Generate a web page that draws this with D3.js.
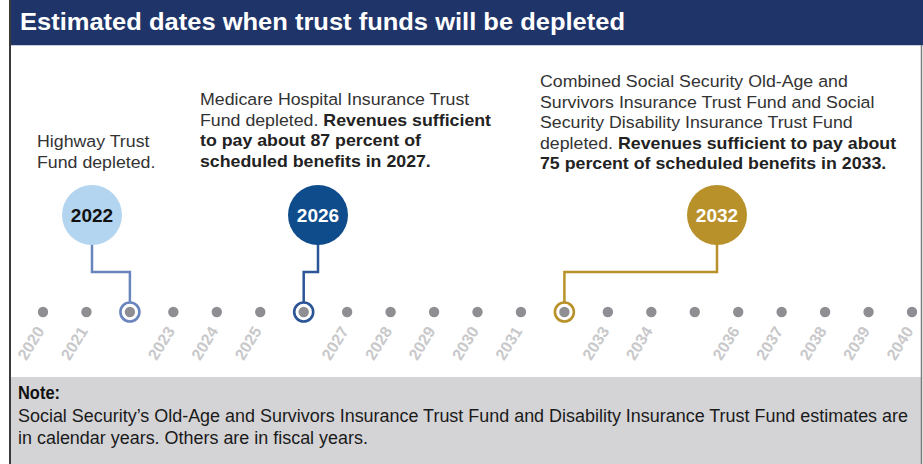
<!DOCTYPE html>
<html><head><meta charset="utf-8">
<script src="https://cdn.jsdelivr.net/npm/d3@7"></script>
<style>
html,body{margin:0;padding:0;background:#fff;}
svg{display:block;}
</style></head>
<body>
<script>
// ---- data ----
const years = [2020,2021,2022,2023,2024,2025,2026,2027,2028,2029,2030,2031,2032,2033,2034,2035,2036,2037,2038,2039,2040];
const tickLabels = ["2020","2021","","2023","2024","2025","","2027","2028","2029","2030","2031","","2033","2034","","2036","2037","2038","2039","2040"];
const eventYears = [2022, 2026, 2032];
const eventLabels = ["2022", "2026", "2032"];
const eventNotes = [
  [[["Highway Trust", false]], [["Fund depleted.", false]]],
  [[["Medicare Hospital Insurance Trust", false]],
   [["Fund depleted. ", false], ["Revenues sufficient", true]],
   [["to pay about 87 percent of", true]],
   [["scheduled benefits in 2027.", true]]],
  [[["Combined Social Security Old-Age and", false]],
   [["Survivors Insurance Trust Fund and Social", false]],
   [["Security Disability Insurance Trust Fund", false]],
   [["depleted. ", false], ["Revenues sufficient to pay about", true]],
   [["75 percent of scheduled benefits in 2033.", true]]]
];
const titleText = "Estimated dates when trust funds will be depleted";
const noteTitle = "Note:";
const noteLines = [
  "Social Security\u2019s Old-Age and Survivors Insurance Trust Fund and Disability Insurance Trust Fund estimates are",
  "in calendar years. Others are in fiscal years."
];

// ---- styles / layout ----
const W = 923, H = 464;
const bubbleFill = ["#b4d5ef", "#0e4c8b", "#b8912a"];
const bubbleText = ["#111", "#fff", "#fff"];
const lineColor = ["#6a85bd", "#2b5597", "#b8912a"];
const bubbleCx = [92, 318, 717];
const noteX = [37, 200, 540];
const noteY = [147, 105, 87];
const lineH = 20.6;
const narrow = "'Liberation Sans Narrow', 'Liberation Sans', Arial, sans-serif";

const svg = d3.select("body").append("svg").attr("width", W).attr("height", H)
  .style("font-family", "'Liberation Sans', Arial, sans-serif");

// title bar
svg.append("rect").attr("x", 10).attr("y", 0).attr("width", 913).attr("height", 45).attr("fill", "#1f3469");
svg.append("line").attr("x1", 10).attr("x2", 923).attr("y1", 45.5).attr("y2", 45.5).attr("stroke", "#c9cfdd").attr("stroke-width", 1);
svg.append("text").attr("x", 20).attr("y", 29.5)
  .attr("fill", "#fff").attr("font-size", 24.5).attr("font-weight", 700)
  .style("font-family", narrow)
  .attr("textLength", 605).attr("lengthAdjust", "spacingAndGlyphs")
  .text(titleText);

// note box
svg.append("rect").attr("x", 10).attr("y", 377).attr("width", 912).attr("height", 87).attr("fill", "#d4d4d6");
svg.append("text").attr("x", 18).attr("y", 399).attr("font-size", 17.5).attr("font-weight", 700).attr("fill", "#111")
  .style("font-family", narrow)
  .attr("textLength", 42).attr("lengthAdjust", "spacingAndGlyphs")
  .text(noteTitle);
const noteG = svg.append("g");
const noteTexts = noteLines.map((t, i) => noteG.append("text")
  .attr("x", 18).attr("y", 422 + i * 22.3).attr("font-size", 17.5).attr("fill", "#1a1a1a")
  .style("font-family", narrow).text(t));
const squeeze = 890 / noteTexts[0].node().getComputedTextLength();
noteTexts.forEach(t => {
  t.attr("textLength", t.node().getComputedTextLength() * squeeze).attr("lengthAdjust", "spacingAndGlyphs");
});

// borders
svg.append("line").attr("x1", 10).attr("x2", 10).attr("y1", 0).attr("y2", H).attr("stroke", "#3a3a3a").attr("stroke-width", 2);
svg.append("line").attr("x1", 921.5).attr("x2", 921.5).attr("y1", 45).attr("y2", H).attr("stroke", "#7a7a7a").attr("stroke-width", 1.5);

// scale
const x = d3.scalePoint().domain(years).range([43, 912]);
const axisY = 312;

// connectors
const elbowY = 272;
eventYears.forEach((yr, i) => {
  const bx = bubbleCx[i], tx = x(yr);
  const p = d3.path();
  p.moveTo(bx, 230);
  p.lineTo(bx, elbowY);
  p.lineTo(tx, elbowY);
  p.lineTo(tx, axisY - 10);
  svg.append("path").attr("d", p.toString()).attr("fill", "none")
    .attr("stroke", lineColor[i]).attr("stroke-width", 2.5);
});

// dots
svg.append("g").selectAll("circle").data(years).join("circle")
  .attr("cx", d => x(d)).attr("cy", axisY).attr("r", 5.2).attr("fill", "#8e8e93");

// rings
svg.append("g").selectAll("circle").data(eventYears).join("circle")
  .attr("cx", d => x(d)).attr("cy", axisY).attr("r", 9.5)
  .attr("fill", "none").attr("stroke", (d, i) => lineColor[i]).attr("stroke-width", 2.6);

// tick labels
svg.append("g").selectAll("text").data(years).join("text")
  .attr("transform", d => `translate(${x(d) + 2},${axisY + 19}) rotate(-58)`)
  .attr("text-anchor", "end")
  .attr("font-size", 16).attr("font-weight", 700).attr("fill", "#c8c8ca")
  .text((d, i) => tickLabels[i]);

// bubbles
const bubbles = svg.append("g").selectAll("g").data(eventYears).join("g")
  .attr("transform", (d, i) => `translate(${bubbleCx[i]},215)`);
bubbles.append("circle").attr("r", 30).attr("fill", (d, i) => bubbleFill[i]);
bubbles.append("text").attr("text-anchor", "middle").attr("dy", "0.36em")
  .attr("font-size", 19).attr("font-weight", 700).attr("fill", (d, i) => bubbleText[i])
  .text((d, i) => eventLabels[i]);

// annotation text
eventNotes.forEach((lines, i) => {
  const t = svg.append("text").attr("font-size", 16.5).attr("fill", "#333")
    .attr("transform", `translate(${noteX[i]},${noteY[i]}) scale(1.077,1)`);
  lines.forEach((segs, j) => {
    segs.forEach((s, k) => {
      const ts = t.append("tspan").text(s[0])
        .attr("font-weight", s[1] ? 700 : 400)
        .attr("fill", s[1] ? "#222" : "#333")
        .style("white-space", "pre");
      if (k === 0) ts.attr("x", 0).attr("y", j * lineH);
    });
  });
});
</script>
</body></html>
